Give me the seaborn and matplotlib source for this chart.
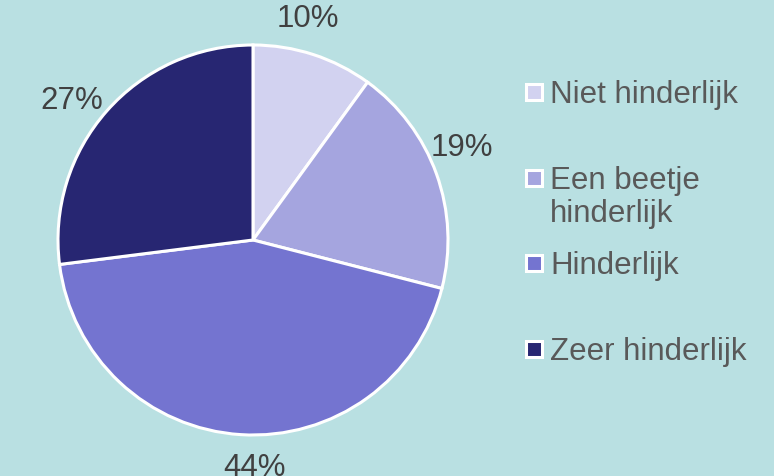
import matplotlib
matplotlib.use("Agg")
import numpy as np
import matplotlib.pyplot as plt
from matplotlib.patches import Rectangle
import seaborn as sns

# data
categories = ["Niet hinderlijk", "Een beetje\nhinderlijk", "Hinderlijk", "Zeer hinderlijk"]
shares = [10, 19, 44, 27]
colors = ["#D2D2F0", "#A5A5DF", "#7474D0", "#272672"]

bg = "#B9E0E2"

sns.set_theme(style="white")
plt.rcParams["font.family"] = ["Liberation Sans", "DejaVu Sans"]

fig = plt.figure(figsize=(7.74, 4.76), dpi=100, facecolor=bg)
# pie centre ~ (253, 240) px, radius ~195 px
W, H = 774, 476
cx, cy, r = 253, 240, 195
ax = fig.add_axes([(cx - r) / W, (H - cy - r) / H, 2 * r / W, 2 * r / H])
ax.set_facecolor(bg)

wedges, _, autotexts = ax.pie(
    shares,
    colors=colors,
    startangle=90,
    counterclock=False,
    radius=1,
    autopct="%1.0f%%",
    pctdistance=1.17,
    wedgeprops=dict(edgecolor="white", linewidth=2.2),
    textprops=dict(fontsize=22.5, color="#404040"),
)
# Excel-style labels sit a little counter-clockwise of the wedge middle
for w, t in zip(wedges, autotexts):
    mid = np.deg2rad((w.theta1 + w.theta2) / 2 + 4)
    t.set_position((1.17 * np.cos(mid), 1.17 * np.sin(mid)))

ax.set_xlim(-1, 1)
ax.set_ylim(-1, 1)
ax.set_aspect("equal")
ax.axis("off")

# legend: entries stacked by first line, as in the reference
x_box, y0, step = 534, 103, 85.7
for i, (lab, col) in enumerate(zip(categories, colors)):
    yb = y0 + i * step
    sq = 16
    fig.patches.append(Rectangle(((x_box - sq / 2) / W, (H - yb + 3) / H), sq / W, sq / H,
                                 transform=fig.transFigure, facecolor=col,
                                 edgecolor="white", linewidth=2.2))
    fig.text(550 / W, (H - yb + 23) / H, lab, fontsize=22.5, color="#595959",
             ha="left", va="top", linespacing=1.15)

fig.savefig("out.png", dpi=100, facecolor=bg)
